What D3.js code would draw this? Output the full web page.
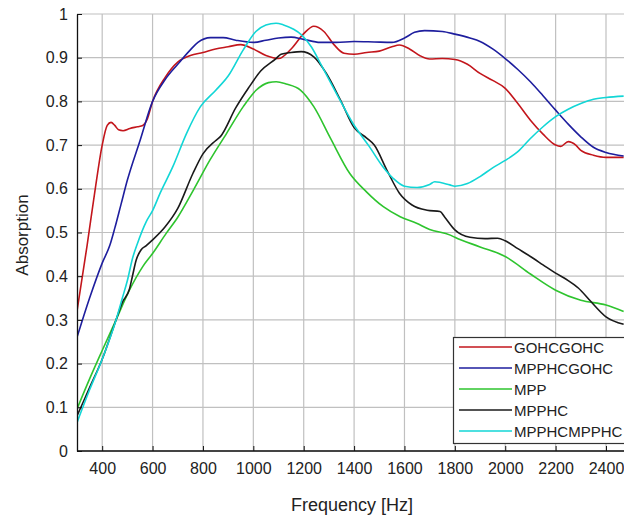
<!DOCTYPE html>
<html><head><meta charset="utf-8">
<script src="https://cdn.jsdelivr.net/npm/d3@7"></script>
<style>body{margin:0;background:#fff}svg{display:block}text{font-family:"Liberation Sans",Arial,sans-serif;fill:#222}</style>
</head><body>
<script>
const xTicks = [400,600,800,1000,1200,1400,1600,1800,2000,2200,2400];
const yTicks = [0,0.1,0.2,0.3,0.4,0.5,0.6,0.7,0.8,0.9,1];
const seriesNames = ["GOHCGOHC","MPPHCGOHC","MPP","MPPHC","MPPHCMPPHC"];
const seriesColors = ["#c3161c","#1e1e9e","#2ec42e","#1a1a1a","#12d6d6"];

const redF = [300,340,370,400,420,435,450,465,483,510,540,561,578,600,650,700,750,800,850,900,950,1000,1050,1100,1150,1200,1240,1280,1320,1360,1400,1450,1500,1550,1580,1620,1660,1700,1750,1800,1850,1900,1950,2000,2050,2100,2150,2200,2220,2250,2280,2300,2350,2400,2470];
const redV = [0.32,0.47,0.59,0.70,0.745,0.752,0.745,0.735,0.733,0.738,0.742,0.745,0.758,0.80,0.855,0.89,0.905,0.912,0.92,0.925,0.93,0.92,0.905,0.898,0.92,0.955,0.972,0.96,0.93,0.91,0.908,0.912,0.915,0.925,0.929,0.92,0.905,0.897,0.898,0.896,0.885,0.864,0.848,0.83,0.795,0.757,0.725,0.70,0.697,0.708,0.70,0.688,0.677,0.672,0.672];

const blueF = [300,350,400,430,450,475,500,550,600,650,700,750,780,830,880,930,1000,1050,1100,1150,1200,1265,1330,1400,1480,1550,1600,1640,1680,1750,1800,1860,1900,1950,2000,2050,2100,2150,2200,2250,2300,2350,2400,2470];
const blueV = [0.26,0.35,0.43,0.47,0.51,0.565,0.62,0.71,0.80,0.85,0.885,0.918,0.935,0.946,0.946,0.94,0.935,0.94,0.945,0.947,0.942,0.935,0.935,0.937,0.936,0.935,0.945,0.958,0.962,0.96,0.954,0.945,0.937,0.92,0.898,0.873,0.845,0.813,0.78,0.748,0.719,0.695,0.683,0.675];

const greenF = [300,350,400,455,508,561,600,654,700,762,828,894,960,1012,1060,1091,1130,1187,1240,1306,1383,1449,1516,1583,1648,1700,1782,1800,1900,2000,2100,2200,2300,2400,2470];
const greenV = [0.096,0.165,0.23,0.30,0.368,0.422,0.452,0.498,0.535,0.597,0.666,0.727,0.788,0.826,0.843,0.845,0.84,0.826,0.788,0.716,0.635,0.593,0.559,0.536,0.521,0.507,0.494,0.489,0.467,0.445,0.405,0.368,0.345,0.334,0.319];

const blackF = [300,350,400,455,480,508,520,535,554,575,600,650,700,760,800,850,870,930,980,1030,1090,1110,1150,1190,1240,1290,1346,1400,1450,1480,1530,1580,1630,1690,1741,1760,1800,1860,1920,1970,2000,2050,2100,2150,2200,2250,2290,2340,2400,2470];
const blackV = [0.08,0.145,0.21,0.30,0.34,0.37,0.40,0.437,0.46,0.47,0.483,0.513,0.555,0.635,0.68,0.71,0.72,0.785,0.83,0.87,0.898,0.908,0.912,0.914,0.902,0.864,0.803,0.74,0.716,0.70,0.643,0.59,0.563,0.551,0.548,0.535,0.506,0.489,0.486,0.487,0.481,0.463,0.445,0.426,0.407,0.39,0.373,0.342,0.307,0.29];

const cyanF = [300,350,400,455,480,500,520,540,575,600,630,680,735,790,850,900,960,1010,1050,1090,1120,1160,1190,1230,1270,1330,1395,1460,1515,1555,1600,1650,1700,1720,1780,1800,1850,1900,1950,2000,2050,2100,2150,2200,2250,2300,2350,2400,2470];
const cyanV = [0.065,0.14,0.21,0.30,0.35,0.39,0.44,0.475,0.525,0.55,0.59,0.65,0.727,0.788,0.825,0.858,0.918,0.96,0.975,0.979,0.975,0.965,0.953,0.925,0.883,0.818,0.75,0.697,0.65,0.624,0.606,0.603,0.61,0.616,0.609,0.606,0.612,0.628,0.648,0.665,0.685,0.715,0.742,0.765,0.782,0.795,0.805,0.809,0.812];

const seriesF = [redF, blueF, greenF, blackF, cyanF];
const seriesV = [redV, blueV, greenV, blackV, cyanV];

const W = 624, H = 516;
const mLeft = 77, mTop = 14, mBottom = 451;
const x = d3.scaleLinear().domain([300, 2400]).range([mLeft, 606]);
const xEnd = 2480;
const y = d3.scaleLinear().domain([0, 1]).range([mBottom, mTop]);

const svg = d3.select("body").append("svg").attr("width", W).attr("height", H);
svg.append("defs").append("clipPath").attr("id","pc").append("rect")
  .attr("x", mLeft).attr("y", mTop-2).attr("width", x(xEnd)-mLeft).attr("height", mBottom-mTop+4);

const grid = svg.append("g");
grid.selectAll("line.v").data(xTicks).join("line")
  .attr("x1", d => x(d)).attr("x2", d => x(d)).attr("y1", mTop).attr("y2", mBottom)
  .attr("stroke", "#c0c0c0").attr("stroke-width", 1.2);
grid.selectAll("line.h").data(yTicks).join("line")
  .attr("x1", mLeft).attr("x2", x(xEnd)).attr("y1", d => y(d)).attr("y2", d => y(d))
  .attr("stroke", "#c0c0c0").attr("stroke-width", 1.2);

const line = d3.line().x(d => x(d[0])).y(d => y(d[1])).curve(d3.curveMonotoneX);
const plot = svg.append("g").attr("clip-path", "url(#pc)");
seriesNames.forEach((n, i) => {
  const pts = seriesF[i].map((f, j) => [f, seriesV[i][j]]);
  plot.append("path").datum(pts).attr("d", line).attr("fill", "none")
    .attr("stroke", seriesColors[i]).attr("stroke-width", 1.6);
});

// axes
const xAxis = d3.axisBottom(x).tickValues(xTicks).tickSizeInner(-5).tickSizeOuter(0).tickPadding(12).tickFormat(d3.format("d"));
const gx = svg.append("g").attr("transform", `translate(0,${mBottom})`).call(xAxis);
gx.select(".domain").attr("d", `M${mLeft},0H${x(xEnd)}`).attr("stroke", "#111").attr("stroke-width", 1.3);
gx.selectAll(".tick line").attr("stroke", "#111");
gx.selectAll("text").attr("font-size", 16).attr("fill", "#222").attr("font-family", '"Liberation Sans",Arial,sans-serif');

const yAxis = d3.axisLeft(y).tickValues(yTicks).tickSizeInner(-5).tickSizeOuter(0).tickPadding(9).tickFormat(d => d === 0 || d === 1 ? String(d) : d.toFixed(1));
const gy = svg.append("g").attr("transform", `translate(${mLeft},0)`).call(yAxis);
gy.select(".domain").attr("stroke", "#111").attr("stroke-width", 1.3);
gy.selectAll(".tick line").attr("stroke", "#111");
gy.selectAll("text").attr("font-size", 16).attr("fill", "#222").attr("font-family", '"Liberation Sans",Arial,sans-serif');

svg.append("text").attr("x", 352).attr("y", 511).attr("text-anchor", "middle")
  .attr("font-size", 18).text("Frequency [Hz]");
svg.append("text").attr("transform", "translate(28,235) rotate(-90)").attr("text-anchor", "middle")
  .attr("font-size", 17).text("Absorption");

// legend
const lg = svg.append("g");
lg.append("rect").attr("x", 453.5).attr("y", 337.5).attr("width", 190).attr("height", 106)
  .attr("fill", "#fff").attr("stroke", "#333").attr("stroke-width", 1.2);
seriesNames.forEach((n, i) => {
  const yy = 347 + i * 21;
  lg.append("line").attr("x1", 459).attr("x2", 512).attr("y1", yy).attr("y2", yy)
    .attr("stroke", seriesColors[i]).attr("stroke-width", 1.3);
  lg.append("text").attr("x", 514).attr("y", yy + 5.5).attr("font-size", 15).text(n);
});
</script>
</body></html>
